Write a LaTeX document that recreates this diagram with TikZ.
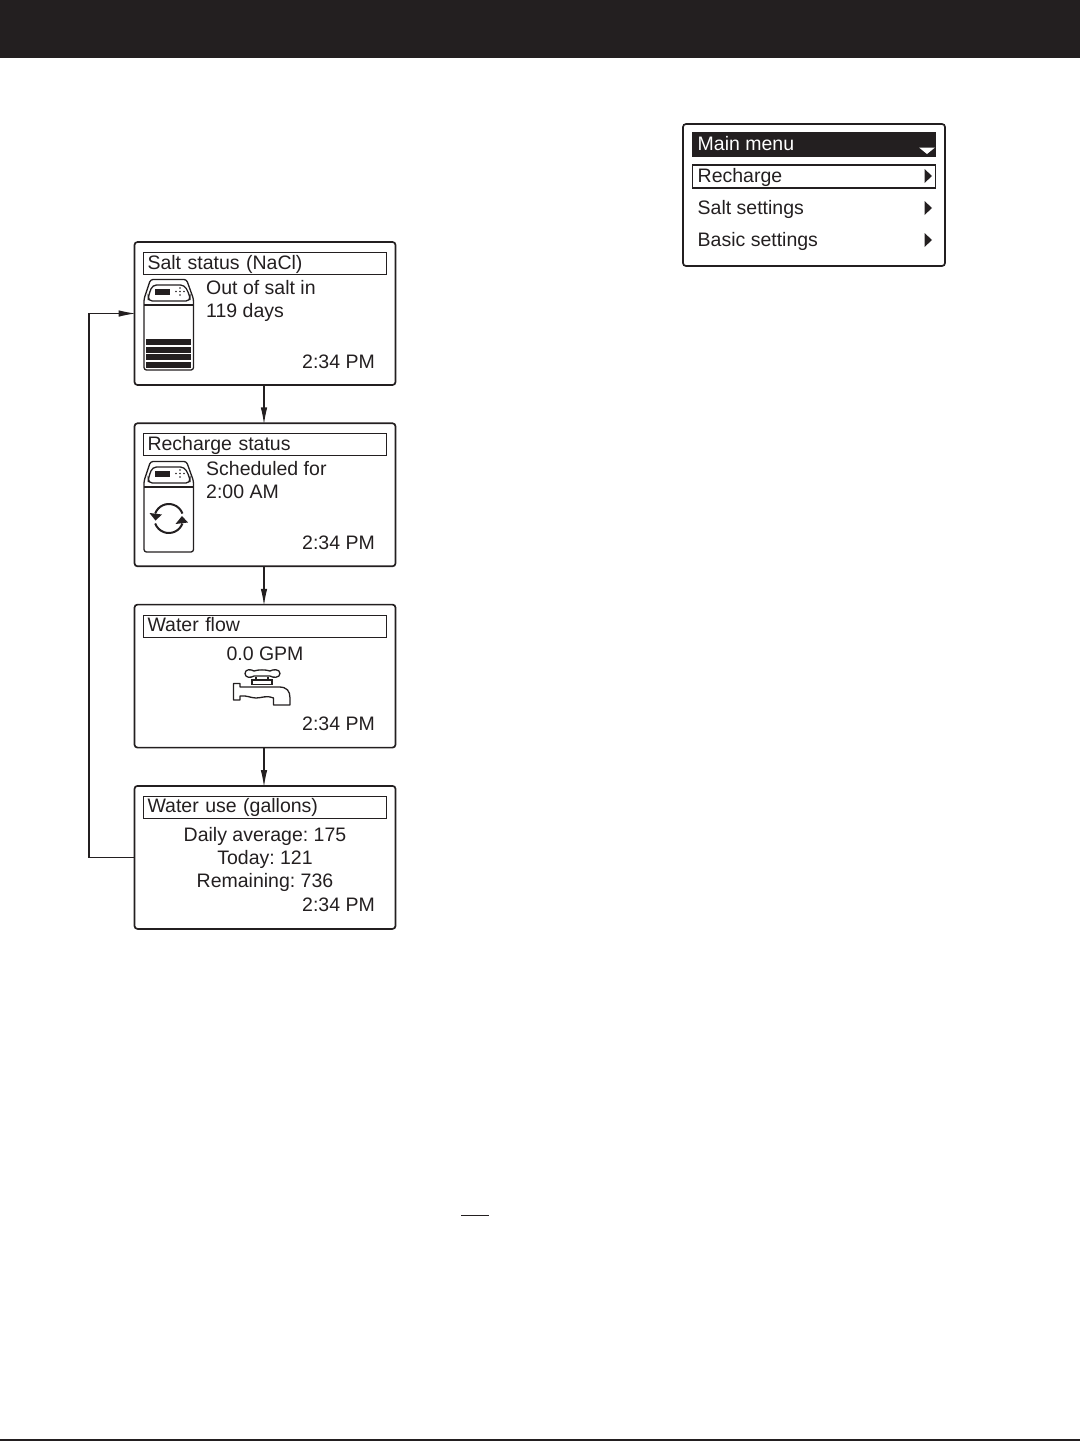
\documentclass[tikz,border=0pt]{standalone}
\usepackage{fontspec}
\setmainfont{Liberation Sans}
\usetikzlibrary{positioning,arrows.meta}
\definecolor{ink}{HTML}{231F20}
\tikzset{
  softener/.pic={
    \draw[ink,line width=1.3pt,line join=round,rounded corners=2.5pt]
      (0.5,91) -- (50,91) -- (50,20) -- (43,0.5) -- (7,0.5) -- (0.5,20) -- cycle;
    \draw[ink,line width=1.3pt] (0.5,26) -- (50,26);
    \draw[ink,line width=1.3pt,rounded corners=4pt]
      (9,6) -- (41,6) -- (46.5,17) -- (46.5,22) -- (4.8,22) -- (4.8,17) -- cycle;
    \fill[ink] (11.5,9.5) rectangle (26,15.5);
    \foreach \dx/\dy in {36.5/12.5, 32.5/12.5, 40.5/12.5, 36.5/9, 36.5/16}
      \fill[ink] (\dx,\dy) circle (0.8pt);
  }
}
\begin{document}
\begin{tikzpicture}[
    x=1pt, y=-1pt,
    screen/.style={draw=ink,line width=1.7pt,rounded corners=3pt,minimum width=261pt,minimum height=143pt,inner sep=0pt},
    titlebar/.style={draw=ink,line width=1.2pt,text=ink,text width=235pt,inner xsep=4pt,inner ysep=2pt,text height=14.5pt,text depth=3.5pt,font=\lcdfont},
    lcd/.style={text=ink,inner sep=0pt,font=\lcdfont},
    link/.style={draw=ink,line width=1.1pt,shorten >=-2pt,-{Latex[length=17pt,width=6.5pt]}},
    pointer/.style={fill=ink,draw=none}
  ]
  \newcommand{\lcdfont}{\fontsize{19.5}{23}\selectfont\frenchspacing}
  \useasboundingbox (0,0) rectangle (1080,1441);
  % page furniture
  \fill[ink] (0,0) rectangle (1080,57.5);
  \draw[ink,line width=1.5pt] (0,1440.2) -- (1080,1440.2);
  \draw[ink,line width=1.2pt] (461,1215.5) -- (489,1215.5);

  % main menu
  \node (menu) [screen,minimum width=262pt,minimum height=142pt] at (814,195) {};
  \fill[ink] (692,132) rectangle (936,157);
  \node (mainmenu) [lcd,text=white,anchor=base west] at (697.5,150) {Main menu};
  \fill[white] (919,147.5) -- (935,147.5) -- (927,154) -- cycle;
  \node (recharge) [draw=ink,line width=1.2pt,minimum width=243pt,minimum height=23pt,inner sep=0pt] at (814,176.5) {};
  \node (rechargetxt) [lcd,anchor=base west] at (697.5,182) {Recharge};
  \node (saltset) [lcd,anchor=base west] at (697.5,214) {Salt settings};
  \node (basicset) [lcd,anchor=base west] at (697.5,246) {Basic settings};
  \foreach \y in {176,208,240}
    \fill[pointer] (924.5,\y-7) -- (932,\y) -- (924.5,\y+7) -- cycle;

  % screens
  \node (salt) [screen] at (265,313.5) {};
  \node (status) [screen,below=36.6pt of salt] {};
  \node (flow) [screen,below=36.6pt of status] {};
  \node (use) [screen,below=36.6pt of flow] {};

  \node (salttitle) [titlebar,below=10.8pt of salt.north] {Salt status (NaCl)};
  \node (statustitle) [titlebar,below=10.8pt of status.north] {Recharge status};
  \node (flowtitle) [titlebar,below=10.8pt of flow.north] {Water flow};
  \node (usetitle) [titlebar,below=10.8pt of use.north] {Water use (gallons)};

  \node (saltone) [lcd,anchor=base west] at (206,294) {Out of salt in};
  \node (salttwo) [lcd,anchor=base west] at (206,317.3) {119 days};
  \node (statusone) [lcd,anchor=base west] at (206,475.3) {Scheduled for};
  \node (statustwo) [lcd,anchor=base west] at (206,498.5) {2:00 AM};
  \node (gpm) [lcd,anchor=base] at (265,660.4) {0.0 GPM};
  \node (avg) [lcd,anchor=base] at (265,841.3) {Daily average: 175};
  \node (today) [lcd,anchor=base] at (265,864) {Today: 121};
  \node (left) [lcd,anchor=base] at (265,887) {Remaining: 736};
  \foreach \y/\name in {368.3/salt,549/status,730.4/flow,911.6/use}
    \node (\name time) [lcd,anchor=base east] at (375,\y) {2:34 PM};

  % softener icons
  \pic at (143.5,279) {softener};
  \pic at (143.5,461) {softener};
  \foreach \y in {339,346.7,354.4,362}
    \fill[ink] (146,\y) rectangle (191,\y+6);

  % recharge symbol
  \coordinate (arrows) at (168.8,518.5);
  \draw[ink,line width=2pt] (arrows) ++(160:14.5pt) arc (160:20:14.5pt);
  \draw[ink,line width=2pt] (arrows) ++(-20:14.5pt) arc (-20:-160:14.5pt);
  \fill[ink] (149.5,513) -- (162,514.5) -- (155.5,520.5) -- cycle;
  \fill[ink] (175.5,524) -- (188,522.5) -- (182,516) -- cycle;

  % tap
  \draw[ink,line width=1.3pt,line join=round]
    (233.5,683.5) -- (240,683.5) -- (240,687) -- (279,687)
    .. controls (287,687) and (290,691) .. (290,698) -- (290,705) -- (273.5,705) -- (273.5,698)
    .. controls (266,695) and (262,698) .. (256,698) .. controls (251,698) and (246,695) .. (240,696)
    -- (240,700) -- (233.5,700) -- cycle;
  \draw[ink,line width=1.3pt] (256,677) -- (256,680) (268,677) -- (268,680);
  \draw[ink,line width=1.3pt,fill=white] (252,680) rectangle (272,684.5);
  \draw[ink,line width=1.3pt,fill=white,line join=round]
    (254,671) .. controls (251,669) and (245,669) .. (245,673.5)
    .. controls (245,678) and (251,678) .. (254,676) -- (270,676)
    .. controls (273,678) and (280,678) .. (280,673.5)
    .. controls (280,669) and (273,669) .. (270,671)
    .. controls (266,669.5) and (258,669.5) .. (254,671) -- cycle;

  % connectors
  \draw[link] ([xshift=-1pt]salt.south) -- ([xshift=-1pt]status.north);
  \draw[link] ([xshift=-1pt]status.south) -- ([xshift=-1pt]flow.north);
  \draw[link] ([xshift=-1pt]flow.south) -- ([xshift=-1pt]use.north);
  \coordinate (back) at (89,600);
  \draw[link] (use.west) -| (back) |- (salt.west);
\end{tikzpicture}
\end{document}
